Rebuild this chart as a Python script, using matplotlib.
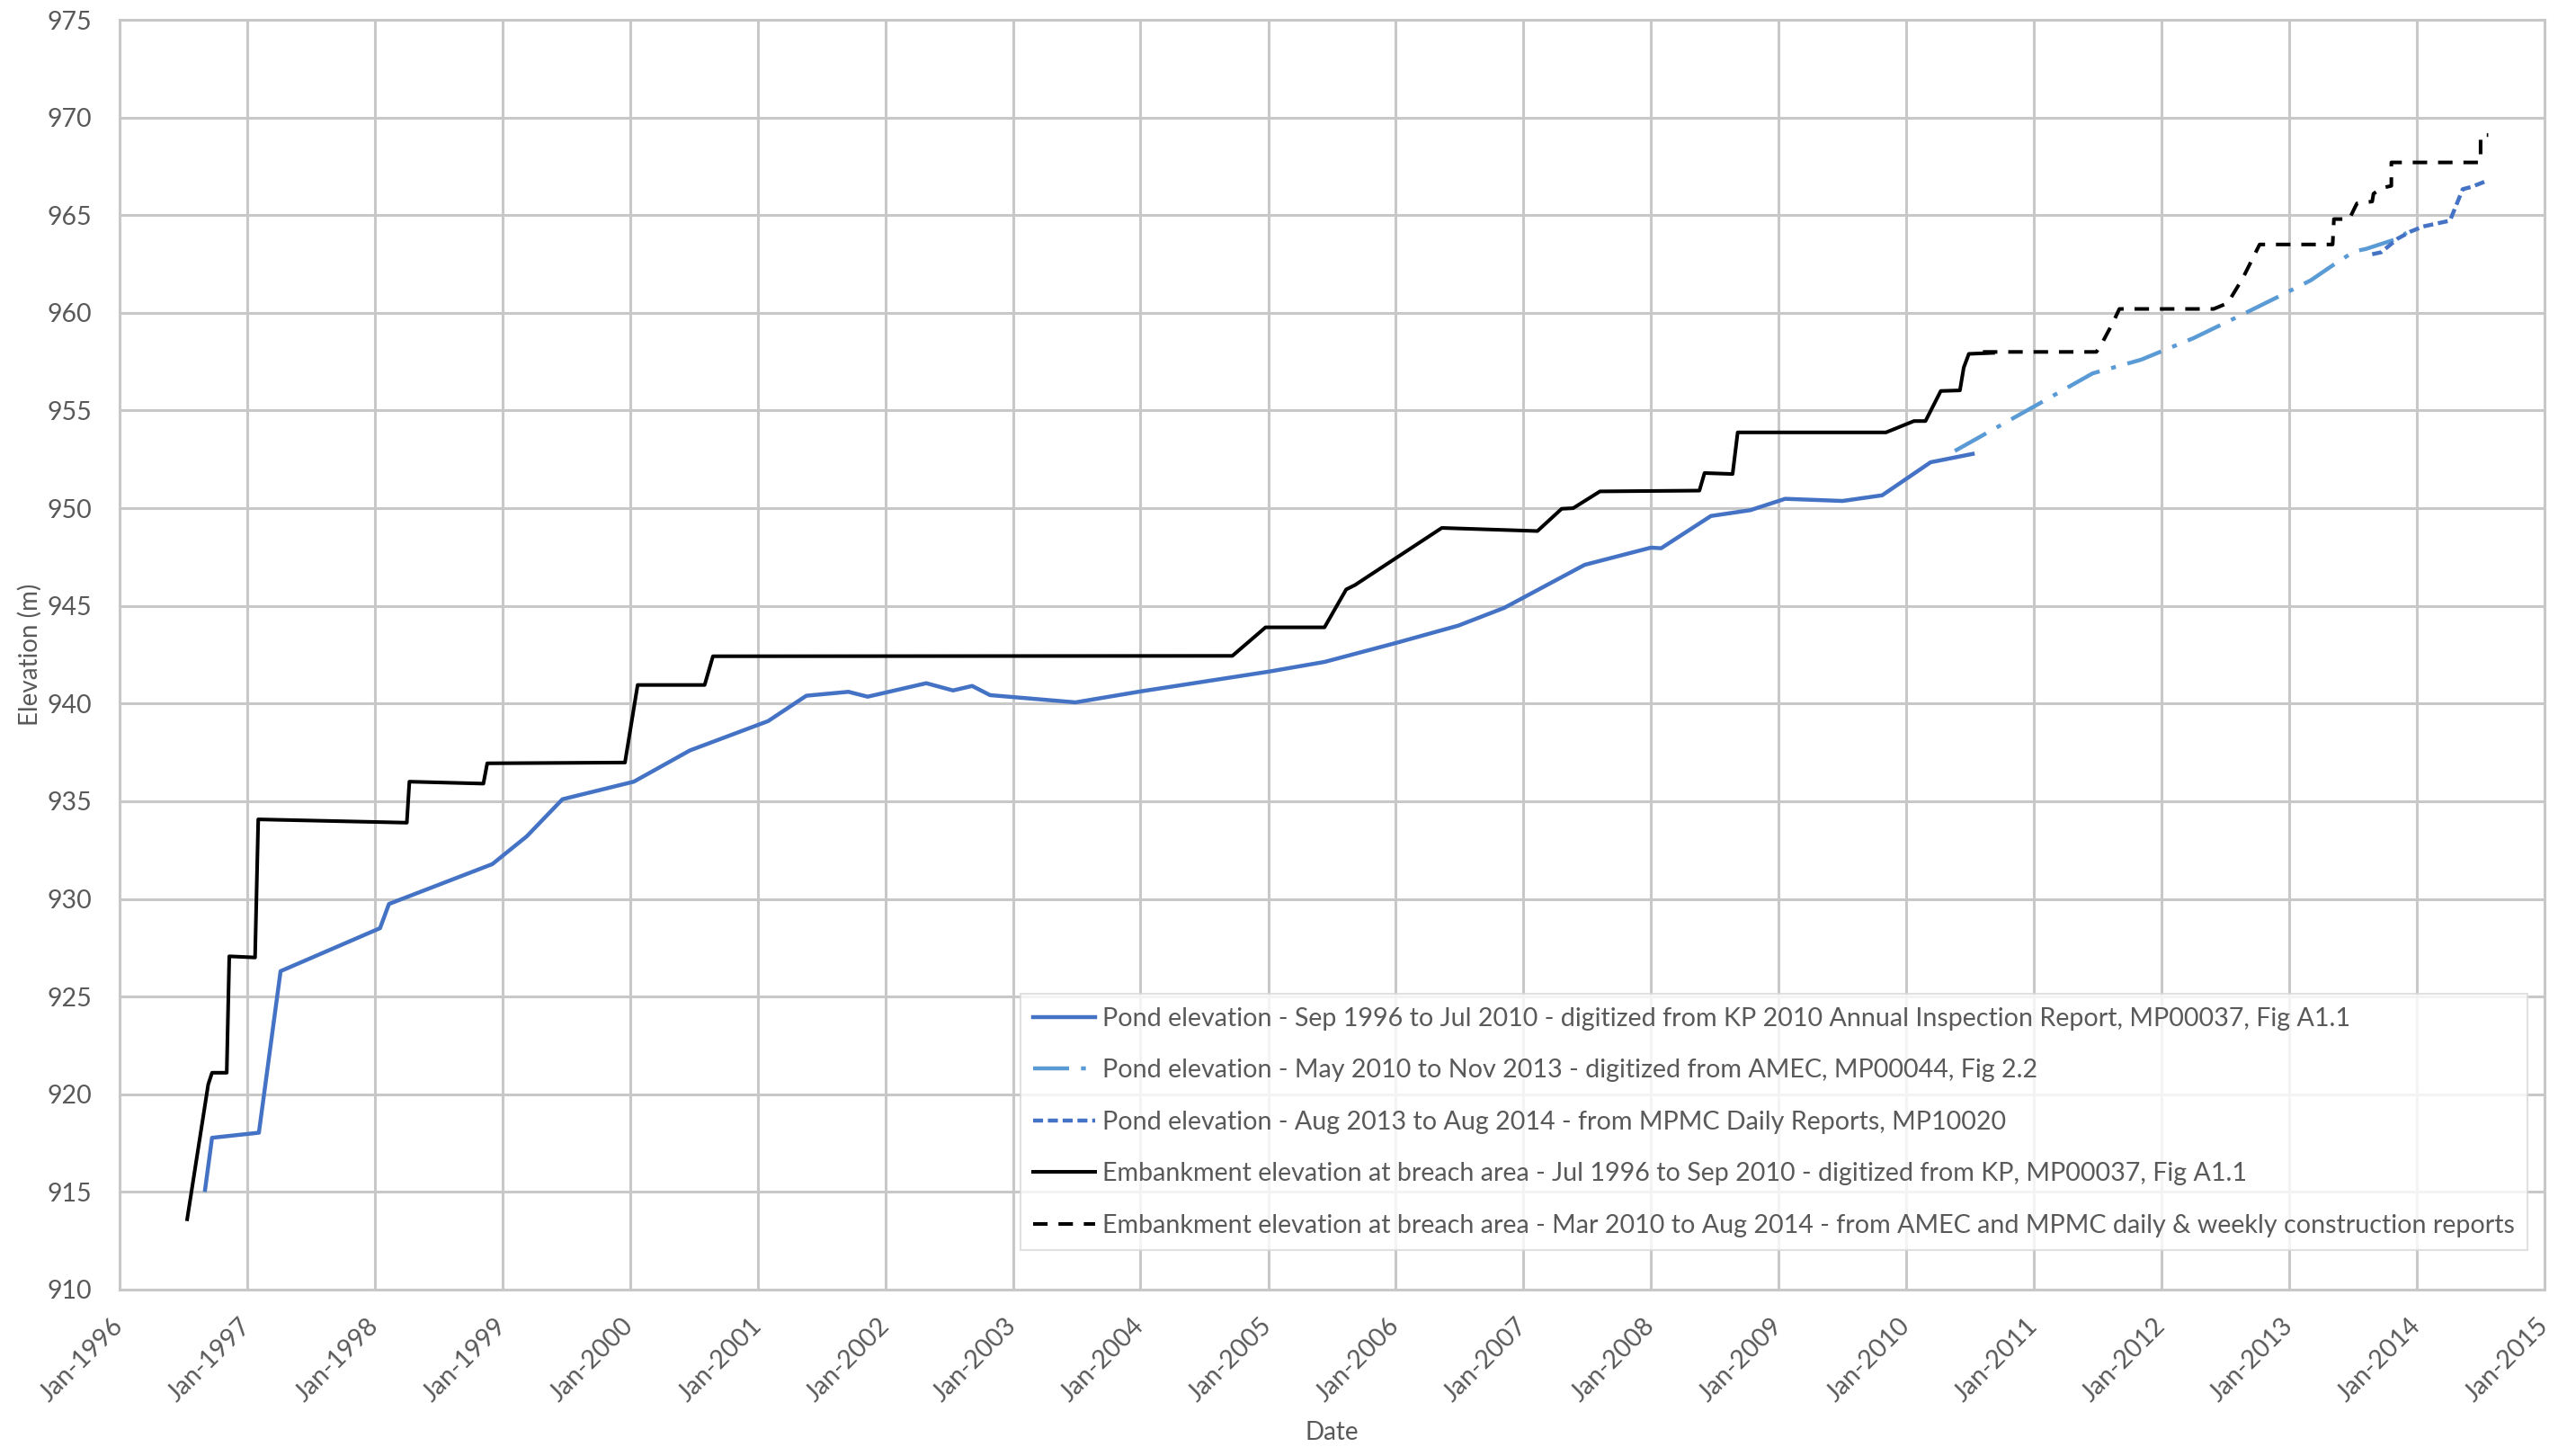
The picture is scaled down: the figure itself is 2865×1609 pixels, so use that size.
import numpy as np
import pandas as pd
import matplotlib
matplotlib.use('Agg')
import matplotlib.pyplot as plt
import matplotlib.dates as mdates

# Values (decimal years, elevation in m)
pond_kp_years = [1996.67, 1996.725, 1997.09, 1997.26, 1998.04, 1998.11, 1998.92, 1999.19,
                 1999.47, 2000.03, 2000.47, 2001.08, 2001.38, 2001.71, 2001.86, 2002.32,
                 2002.53, 2002.68, 2002.82, 2003.49, 2004.01, 2005.0, 2005.44, 2006.0,
                 2006.49, 2006.85, 2007.48, 2008.0, 2008.08, 2008.47, 2008.78, 2009.05,
                 2009.50, 2009.81, 2010.19, 2010.52]
pond_kp_elev = [915.1, 917.77, 918.03, 926.3, 928.5, 929.74, 931.78, 933.2,
                935.1, 936.0, 937.6, 939.1, 940.4, 940.6, 940.35, 941.04,
                940.67, 940.9, 940.43, 940.06, 940.63, 941.63, 942.13, 943.1,
                943.99, 944.9, 947.1, 947.98, 947.95, 949.6, 949.9, 950.48,
                950.37, 950.66, 952.35, 952.78]

pond_amec_years = [2010.38, 2011.0, 2011.46, 2011.84, 2012.25, 2012.63, 2012.97, 2013.17,
                   2013.34, 2013.51, 2013.60, 2013.85, 2013.92]
pond_amec_elev = [952.93, 955.2, 956.9, 957.6, 958.7, 959.9, 961.0, 961.67,
                  962.43, 963.15, 963.27, 963.8, 964.1]

pond_mpmc_years = [2013.65, 2013.72, 2013.85, 2013.95, 2014.05, 2014.26, 2014.29, 2014.36,
                   2014.43, 2014.55]
pond_mpmc_elev = [963.0, 963.1, 963.8, 964.16, 964.42, 964.72, 965.2, 966.33,
                  966.45, 966.76]

emb_kp_years = [1996.53, 1996.695, 1996.725, 1996.84, 1996.86, 1997.06, 1997.085, 1998.25,
                1998.27, 1998.85, 1998.88, 1999.96, 2000.06, 2000.585, 2000.65, 2004.72,
                2004.98, 2005.44, 2005.61, 2005.68, 2006.36, 2007.11, 2007.30, 2007.39,
                2007.60, 2008.38, 2008.42, 2008.64, 2008.68, 2009.84, 2010.06, 2010.15,
                2010.27, 2010.42, 2010.45, 2010.49, 2010.68]
emb_kp_elev = [913.6, 920.5, 921.1, 921.1, 927.06, 927.0, 934.07, 933.9,
               936.0, 935.9, 936.94, 936.98, 940.95, 940.95, 942.42, 942.44,
               943.9, 943.9, 945.84, 946.07, 948.99, 948.83, 949.97, 950.0,
               950.86, 950.9, 951.8, 951.75, 953.88, 953.88, 954.46, 954.46,
               956.0, 956.03, 957.2, 957.9, 957.95]

emb_amec_years = [2010.6, 2011.49, 2011.53, 2011.62, 2011.67, 2012.41, 2012.52, 2012.64,
                  2012.77, 2013.34, 2013.35, 2013.47, 2013.53, 2013.65, 2013.66, 2013.73,
                  2013.80, 2013.80, 2014.50, 2014.50, 2014.56]
emb_amec_elev = [958.0, 958.0, 958.4, 959.5, 960.2, 960.2, 960.5, 961.8,
                 963.5, 963.5, 964.8, 964.8, 965.6, 965.7, 966.1, 966.4,
                 966.5, 967.7, 967.7, 969.1, 969.1]

labels = [
    'Pond elevation - Sep 1996 to Jul 2010 - digitized from KP 2010 Annual Inspection Report, MP00037, Fig A1.1',
    'Pond elevation - May 2010 to Nov 2013 - digitized from AMEC, MP00044, Fig 2.2',
    'Pond elevation - Aug 2013 to Aug 2014 - from MPMC Daily Reports, MP10020',
    'Embankment elevation at breach area - Jul 1996 to Sep 2010 - digitized from KP, MP00037, Fig A1.1',
    'Embankment elevation at breach area - Mar 2010 to Aug 2014 - from AMEC and MPMC daily & weekly construction reports',
]
y_ticks = list(range(910, 976, 5))


def to_dates(years):
    out = []
    for y in years:
        yr = int(y)
        out.append(pd.Timestamp(yr, 1, 1) + pd.Timedelta(days=(y - yr) * 365.25))
    return out


plt.rcParams['font.family'] = ['Lato', 'DejaVu Sans']
text_grey = '#595959'
grid_grey = '#c8c8c8'

fig = plt.figure(figsize=(28.65, 16.09), dpi=100)
ax = fig.add_axes([0.0464, 0.1088, 0.9413, 0.8775])

ax.plot(to_dates(pond_kp_years), pond_kp_elev, color='#4472C4', lw=3.2, label=labels[0], zorder=3)
ax.plot(to_dates(pond_amec_years), pond_amec_elev, color='#5B9BD5', lw=3.2,
        dashes=(9, 3, 1.2, 3), label=labels[1], zorder=3)
ax.plot(to_dates(pond_mpmc_years), pond_mpmc_elev, color='#4472C4', lw=3.2,
        dashes=(2.5, 1.2), label=labels[2], zorder=4)
ax.plot(to_dates(emb_kp_years), emb_kp_elev, color='black', lw=2.9, label=labels[3], zorder=3)
ax.plot(to_dates(emb_amec_years), emb_amec_elev, color='black', lw=2.9,
        dashes=(4, 3), label=labels[4], zorder=3)

ax.set_xlim(pd.Timestamp(1996, 1, 1), pd.Timestamp(2015, 1, 1))
ax.set_ylim(910, 975)
ax.set_yticks(y_ticks)
ax.xaxis.set_major_locator(mdates.YearLocator(1))
ax.xaxis.set_major_formatter(mdates.DateFormatter('%b-%Y'))

ax.grid(True, color=grid_grey, lw=2.2)
ax.set_axisbelow(True)
for sp in ax.spines.values():
    sp.set_color(grid_grey)
    sp.set_linewidth(2.2)

ax.tick_params(axis='both', length=0, labelsize=20.5, labelcolor=text_grey)
ax.tick_params(axis='y', pad=22)
ax.tick_params(axis='x', pad=26)
for lbl in ax.get_xticklabels():
    lbl.set_rotation(45)
    lbl.set_ha('right')
    lbl.set_va('center')
    lbl.set_rotation_mode('anchor')

ax.set_ylabel('Elevation (m)', fontsize=20, color=text_grey, labelpad=4)
ax.set_xlabel('Date', fontsize=20, color=text_grey, labelpad=12)

leg = ax.legend(loc='lower right', bbox_to_anchor=(0.9985, 0.021), fontsize=20.6,
                frameon=True, fancybox=False, handlelength=2.4, labelspacing=1.1,
                borderpad=0.5, handletextpad=0.3, labelcolor=text_grey)
leg.get_frame().set_edgecolor('#d9d9d9')
leg.get_frame().set_linewidth(1.5)

fig.savefig('out.png', dpi=100, facecolor='white')
